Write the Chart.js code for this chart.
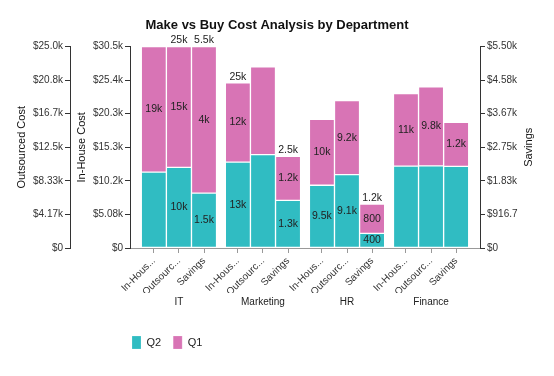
<!DOCTYPE html>
<html>
<head>
<meta charset="utf-8">
<script src="https://cdn.jsdelivr.net/npm/chart.js@4.4.0/dist/chart.umd.min.js"></script>
<style>
  body { margin: 0; background: #fff; }
  #wrap { width: 554px; height: 376px; }
</style>
</head>
<body>
<div id="wrap"><canvas id="chart"></canvas></div>
<script>
const departments = ['IT', 'Marketing', 'HR', 'Finance'];
const costTypes = ['In-House', 'Outsourced', 'Savings'];
const costTypeTicks = ['In-Hous...', 'Outsourc...', 'Savings'];

const inHouseQ2 = [11500, 13000, 9500, 12400];
const inHouseQ1 = [19000, 12000, 10000, 11000];
const outsourcedQ2 = [10000, 11600, 9100, 10200];
const outsourcedQ1 = [15000, 10900, 9200, 9800];
const savingsQ2 = [1500, 1300, 400, 2230];
const savingsQ1 = [4000, 1200, 800, 1200];

const inHouseMax = 30500;
const outsourcedMax = 25000;
const savingsMax = 5500;
const inHouseTicks = ['$0', '$5.08k', '$10.2k', '$15.3k', '$20.3k', '$25.4k', '$30.5k'];
const outsourcedTicks = ['$0', '$4.17k', '$8.33k', '$12.5k', '$16.7k', '$20.8k', '$25.0k'];
const savingsTicks = ['$0', '$916.7', '$1.83k', '$2.75k', '$3.67k', '$4.58k', '$5.50k'];

// which value labels the original shows (the rest were hidden)
const showQ2 = [[false, true, true, false], [true, false, true, false], [true, true, true, false]];
const showQ1 = [[true, true, true, true], [true, false, true, true], [true, true, true, true]];
const showTotal = [[false, true, false, false], [true, false, false, false], [true, true, true, false]];

const TEAL = 'rgb(48, 188, 194)';
const PINK = 'rgb(216, 116, 181)';
const FONT = '"Liberation Sans", Arial, sans-serif';
const GROUP_STEP = 3.35;

Chart.defaults.font.family = FONT;
Chart.defaults.color = '#333';

function barX(dept, type) {
  return dept * GROUP_STEP + type;
}

function points(values, type) {
  return values.map((v, d) => ({ x: barX(d, type), y: v }));
}

function fmt(v) {
  if (v < 1000) return String(v);
  return String(Math.round(v / 100) / 10) + 'k';
}

const series = [
  { q2: inHouseQ2, q1: inHouseQ1, axis: 'yIn' },
  { q2: outsourcedQ2, q1: outsourcedQ1, axis: 'yOut' },
  { q2: savingsQ2, q1: savingsQ1, axis: 'ySav' }
];

const datasets = [];
series.forEach((s, t) => {
  datasets.push({
    label: 'Q2', data: points(s.q2, t), yAxisID: s.axis,
    backgroundColor: TEAL, borderColor: 'rgba(255,255,255,0.18)',
    labels: showQ2[t]
  });
  datasets.push({
    label: 'Q1', data: points(s.q1, t), yAxisID: s.axis,
    backgroundColor: PINK, borderColor: 'rgba(255,255,255,0.18)',
    labels: showQ1[t], totals: s.q1.map((v, d) => v + s.q2[d]), showTotals: showTotal[t]
  });
});

const valueLabels = {
  id: 'valueLabels',
  afterDatasetsDraw(chart) {
    const ctx = chart.ctx;
    ctx.save();
    ctx.font = '10.5px ' + FONT;
    ctx.fillStyle = '#222';
    ctx.textAlign = 'center';
    chart.data.datasets.forEach((ds, i) => {
      chart.getDatasetMeta(i).data.forEach((bar, d) => {
        if (ds.labels[d]) {
          ctx.textBaseline = 'middle';
          ctx.fillText(fmt(ds.data[d].y), bar.x, (bar.y + bar.base) / 2);
        }
        if (ds.totals && ds.showTotals[d]) {
          ctx.textBaseline = 'bottom';
          ctx.fillText(fmt(ds.totals[d]), bar.x, bar.y - 1);
        }
      });
    });
    ctx.restore();
  }
};

const savingsTitle = {
  id: 'savingsTitle',
  afterDraw(chart) {
    const s = chart.scales.ySav;
    const ctx = chart.ctx;
    ctx.save();
    ctx.translate(s.right - 25.5, (s.top + s.bottom) / 2);
    ctx.rotate(-Math.PI / 2);
    ctx.font = '11px ' + FONT;
    ctx.fillStyle = '#111';
    ctx.textAlign = 'center';
    ctx.textBaseline = 'middle';
    ctx.fillText('Savings', 0, 0);
    ctx.restore();
  }
};

const legendShift = {
  id: 'legendShift',
  afterLayout(chart) {
    const lg = chart.legend;
    lg.left = chart.chartArea.left + 2 - lg.options.labels.padding;
  }
};

function yAxis(pos, weight, max, labels, title, width, titlePad) {
  return {
    type: 'linear',
    position: pos,
    weight: weight,
    stacked: true,
    min: 0,
    max: max,
    afterBuildTicks: s => { s.ticks = labels.map((l, i) => ({ value: max * i / 6 })); },
    afterFit: s => { s.width = width; },
    ticks: { callback: (v, i) => labels[i], padding: 2, font: { size: 10 }, color: '#333' },
    grid: { drawOnChartArea: false, tickLength: 5, color: '#333' },
    border: { color: '#333' },
    title: { display: !!title, text: title, font: { size: 11 }, color: '#111', padding: { top: titlePad, bottom: 0 } }
  };
}

const xMin = -0.95;
const xMax = 3 * GROUP_STEP + 2 + 0.95;
const barTicks = [];
departments.forEach((d, g) => costTypes.forEach((c, t) => barTicks.push(barX(g, t))));

new Chart(document.getElementById('chart'), {
  type: 'bar',
  data: { datasets: datasets },
  plugins: [valueLabels, savingsTitle, legendShift],
  options: {
    responsive: true,
    maintainAspectRatio: false,
    animation: false,
    layout: { padding: { left: 0, right: 0, top: 0, bottom: 17 } },
    datasets: { bar: { barPercentage: 1, categoryPercentage: 1, borderWidth: 1, borderSkipped: false } },
    scales: {
      x: {
        type: 'linear', position: 'bottom', weight: 0, stacked: true, offset: false,
        min: xMin, max: xMax,
        afterBuildTicks: s => { s.ticks = barTicks.map(v => ({ value: v })); },
        afterFit: s => { s.height = 45; },
        ticks: {
          autoSkip: false, minRotation: 45, maxRotation: 45, padding: 2,
          font: { size: 10 }, color: '#333',
          callback: (v, i) => costTypeTicks[i % 3]
        },
        grid: { drawOnChartArea: false, offset: false, tickLength: 5, color: '#999' },
        border: { color: '#999' }
      },
      groups: {
        type: 'linear', position: 'bottom', weight: 1, offset: false, min: xMin, max: xMax,
        afterBuildTicks: s => { s.ticks = departments.map((d, g) => ({ value: barX(g, 1) })); },
        afterFit: s => { s.height = 31; },
        ticks: { autoSkip: false, maxRotation: 0, padding: 3, font: { size: 10 }, color: '#222',
          callback: (v, i) => departments[i] },
        grid: { display: false, drawTicks: false },
        border: { display: false }
      },
      yIn: yAxis('left', 0, inHouseMax, inHouseTicks, 'In-House Cost', 60, 5.5),
      yOut: yAxis('left', 1, outsourcedMax, outsourcedTicks, 'Outsourced Cost', 70, 15),
      ySav: yAxis('right', 0, savingsMax, savingsTicks, '', 74, 0)
    },
    plugins: {
      title: {
        display: true,
        text: 'Make vs Buy Cost Analysis by Department',
        font: { size: 13, weight: 'bold' },
        color: '#111',
        padding: { top: 18, bottom: 13 }
      },
      legend: {
        position: 'bottom',
        align: 'start',
        labels: {
          boxWidth: 9, boxHeight: 13, padding: 12, font: { size: 11 }, color: '#222',
          filter: item => item.datasetIndex < 2
        }
      },
      tooltip: { enabled: false }
    }
  }
});
</script>
</body>
</html>
